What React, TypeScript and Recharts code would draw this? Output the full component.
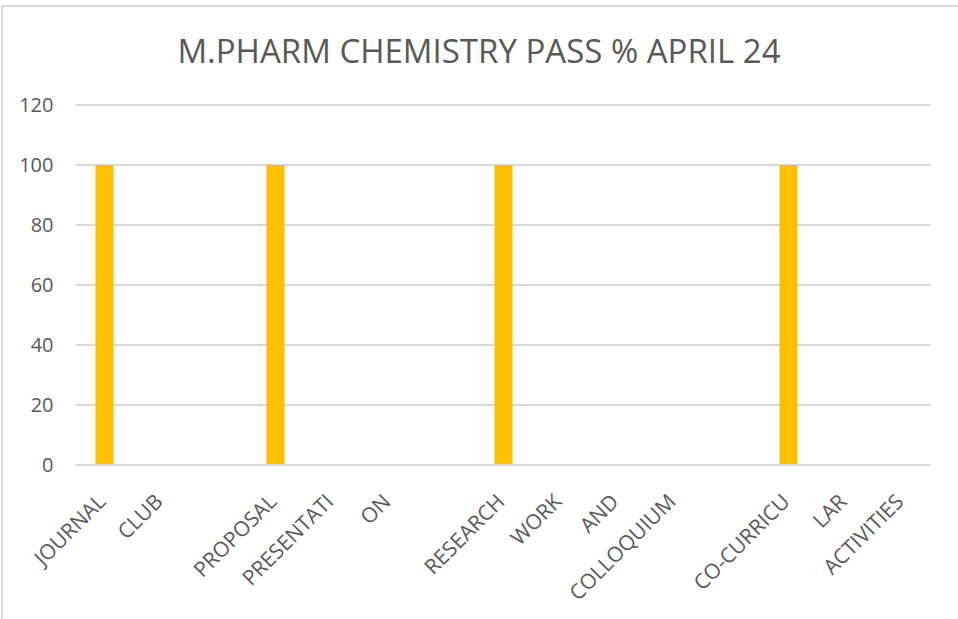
import { Bar, BarChart, CartesianGrid, XAxis, YAxis } from "recharts";

const categories = [
  "JOURNAL", "CLUB", "", "PROPOSAL", "PRESENTATI", "ON", "",
  "RESEARCH", "WORK", "AND", "COLLOQUIUM", "",
  "CO-CURRICU", "LAR", "ACTIVITIES",
];
const passPct = [100, null, null, 100, null, null, null, 100, null, null, null, null, 100, null, null];
const yTicks = [0, 20, 40, 60, 80, 100, 120];

const data = categories.map((c, i) => ({ key: `${i}`, label: c, pass: passPct[i] }));

const FONT = "'Open Sans', sans-serif";
const TEXT = "#595959";
const GRID = "#d9d9d9";

function CatTick({ x, y, payload }: any) {
  const label = categories[Number(payload.value)];
  const tx = x + 3;
  const ty = y + 30;
  return (
    <text
      x={tx}
      y={ty}
      transform={`rotate(-45 ${tx} ${ty})`}
      textAnchor="end"
      fill={TEXT}
      fontSize={21}
      fontFamily={FONT}
    >
      {label}
    </text>
  );
}

export default function App() {
  return (
    <div style={{ position: "absolute", left: 0, top: 0, width: 958, height: 619, background: "#fff" }}>
      <div
        style={{
          position: "absolute",
          left: 1,
          top: 5,
          right: 0,
          bottom: 0,
          borderTop: `2px solid ${GRID}`,
          borderLeft: `2px solid ${GRID}`,
        }}
      />
      <div
        style={{
          position: "absolute",
          left: 0,
          top: 27,
          width: 958,
          textAlign: "center",
          fontFamily: FONT,
          fontSize: 33,
          lineHeight: "48px",
          color: TEXT,
        }}
      >
        M.PHARM CHEMISTRY PASS % APRIL 24
      </div>
      <div style={{ position: "absolute", left: 0, top: 0 }}>
        <BarChart
          width={958}
          height={619}
          data={data}
          margin={{ top: 105, right: 27.5, left: 15.5, bottom: 4 }}
        >
          <CartesianGrid stroke={GRID} strokeWidth={2} vertical={false} />
          <XAxis
            dataKey="key"
            tick={<CatTick />}
            interval={0}
            height={150}
            axisLine={{ stroke: GRID, strokeWidth: 2 }}
            tickLine={false}
          />
          <YAxis
            domain={[0, 120]}
            ticks={yTicks}
            width={60}
            axisLine={false}
            tickLine={false}
            tickMargin={16}
            tick={{ fill: TEXT, fontSize: 20, fontFamily: FONT }}
          />
          <Bar dataKey="pass" fill="#FFC000" barSize={18} isAnimationActive={false} />
        </BarChart>
      </div>
    </div>
  );
}
